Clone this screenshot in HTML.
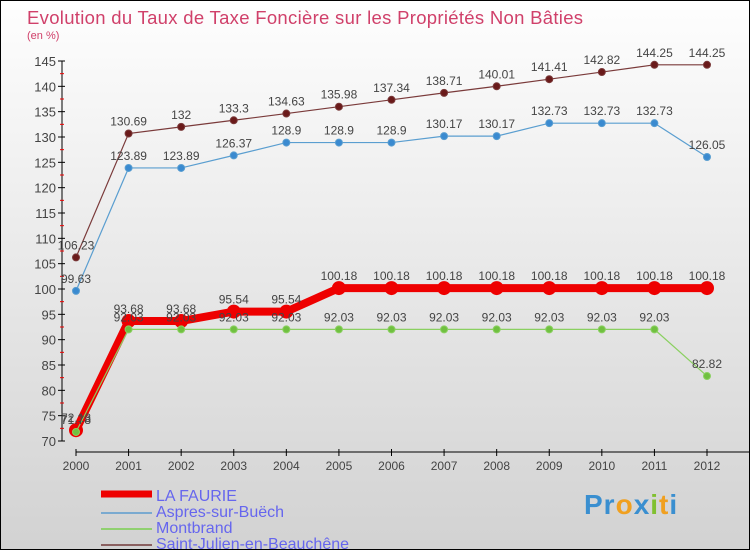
<!DOCTYPE html>
<html><head><meta charset="utf-8"><style>
body{margin:0}
#c{width:748px;height:548px;border:1px solid #000;background:linear-gradient(#fefefe,#d2d2d2);position:relative;overflow:hidden;font-family:"Liberation Sans",sans-serif}
</style></head><body>
<div id="c">
<svg id="s" width="748" height="548" xmlns="http://www.w3.org/2000/svg">
<text x="26" y="23" font-size="18.5" fill="#d0406a" letter-spacing="0.3">Evolution du Taux de Taxe Foncière sur les Propriétés Non Bâties</text>
<text x="26" y="38" font-size="11" fill="#d0406a">(en %)</text>
<g id="g"></g>
</svg>
<div style="position:absolute;left:583px;top:488px;font-size:28px;font-weight:bold;letter-spacing:1px"><span style="color:#3a8fd0">Pr</span><span style="color:#f0a020">o</span><span style="color:#3a8fd0">x</span><span style="color:#80c030">i</span><span style="color:#f0a020">t</span><span style="color:#3a8fd0">i</span></div>
</div>
<script>
const years=[2000,2001,2002,2003,2004,2005,2006,2007,2008,2009,2010,2011,2012];
const laFaurie=[72.13,93.68,93.68,95.54,95.54,100.18,100.18,100.18,100.18,100.18,100.18,100.18,100.18];
const aspres=[99.63,123.89,123.89,126.37,128.9,128.9,128.9,130.17,130.17,132.73,132.73,132.73,126.05];
const montbrand=[71.78,92.03,92.03,92.03,92.03,92.03,92.03,92.03,92.03,92.03,92.03,92.03,82.82];
const stJulien=[106.23,130.69,132,133.3,134.63,135.98,137.34,138.71,140.01,141.41,142.82,144.25,144.25];
const yTicks=[70,75,80,85,90,95,100,105,110,115,120,125,130,135,140,145];
const NS="http://www.w3.org/2000/svg";
const g=document.getElementById('g');
const X=i=>75+i*(706-75)/(years.length-1);
const Y=v=>440-(v-70)*380/75;
function el(t,a,p){const e=document.createElementNS(NS,t);for(const k in a)e.setAttribute(k,a[k]);(p||g).appendChild(e);return e;}
let e=el('line',{x1:61,y1:60,x2:61,y2:440,stroke:'#000'});


e=el('line',{x1:75,y1:451,x2:748,y2:451,stroke:'#000'});


yTicks.forEach((t,i)=>{
  el('line',{x1:57,x2:64,y1:Y(t),y2:Y(t),stroke:'#000'});
  if(i<yTicks.length-1)el('line',{x1:59,x2:63,y1:Y(t+2.5),y2:Y(t+2.5),stroke:'#e00'});
  const tx=el('text',{x:55,y:Y(t)+5,'text-anchor':'end','font-size':13,fill:'#444'});tx.textContent=t;
  
  
});
years.forEach((yr,i)=>{
  el('line',{x1:X(i),x2:X(i),y1:448,y2:455,stroke:'#000'});
  const tx=el('text',{x:X(i),y:469,'text-anchor':'middle','font-size':12,fill:'#444'});tx.textContent=yr;
  
  
});
function series(vals,color,dot,w,r,name){
  const p=el('polyline',{points:vals.map((v,i)=>X(i)+','+Y(v)).join(' '),fill:'none',stroke:color,'stroke-width':w});
  
  
  vals.forEach((v,i)=>{
    const c=el('circle',{cx:X(i),cy:Y(v),r:r,fill:dot,stroke:color,'stroke-width':1});
    
    
    const t=el('text',{x:X(i),y:Y(v)-8,'text-anchor':'middle','font-size':12,fill:'#444'});t.textContent=v;
    
    
  });
}
series(stJulien,'#7a3a3a','#6a1a1a',1.2,3.5,'saint-julien');
series(aspres,'#5a9ed0','#3a8ad0',1.2,3.5,'aspres');
series(laFaurie,'#ee0000','#ee0000',8,6.5,'la-faurie');
series(montbrand,'#8ad060','#70c040',1.2,3.5,'montbrand');
const leg=[['LA FAURIE','#ee0000',7],['Aspres-sur-Buëch','#7aaad0',2],['Montbrand','#90d070',2],['Saint-Julien-en-Beauchêne','#8a6060',2]];
leg.forEach((l,i)=>{
  const y=493+i*16;
  const ln=el('line',{x1:100,x2:151,y1:y+(i?3:0),y2:y+(i?3:0),stroke:l[1],'stroke-width':l[2]});
  
  
  const t=el('text',{x:155,y:y+7,'font-size':16,fill:'#6666ee'});t.textContent=l[0];
  
  
});
</script>
</body></html>
